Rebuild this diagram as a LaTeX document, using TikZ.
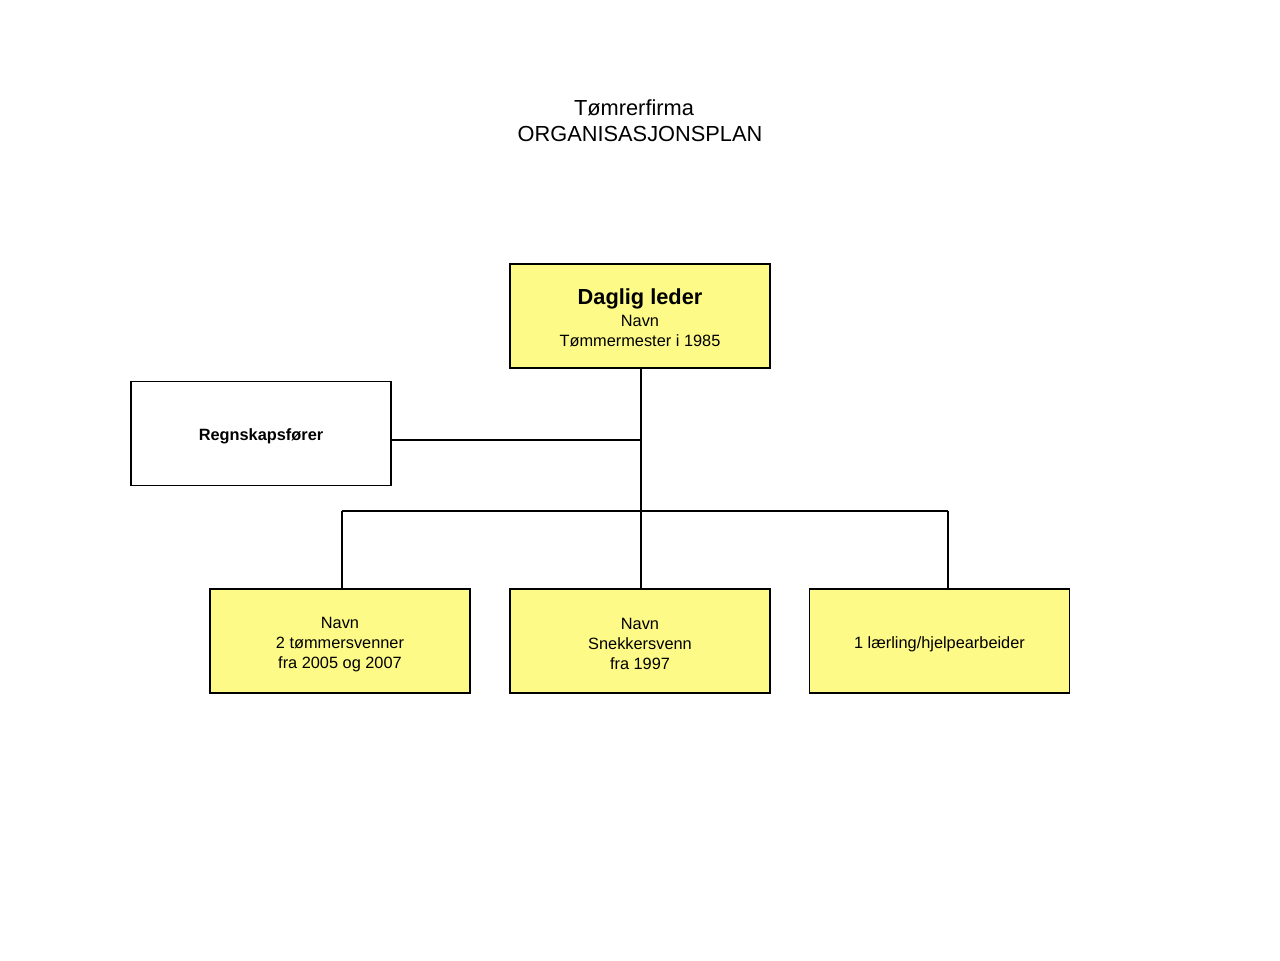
\documentclass[tikz,border=0pt]{standalone}
\usepackage{fontspec}
\setmainfont{Liberation Sans}
\definecolor{boxyellow}{RGB}{253,250,135}
\newcommand\dnstrut{\rule{0pt}{10.1pt}}
\tikzset{
  orgbox/.style={draw=black, line width=0.8pt, minimum width=260*0.02cm, minimum height=104*0.02cm, inner sep=0pt, align=center, font=\fontsize{9.3pt}{11.45pt}\selectfont},
  yellowbox/.style={orgbox, fill=boxyellow},
  titletext/.style={font=\fontsize{12.4pt}{14.5pt}\selectfont, inner sep=0pt}
}
\begin{document}
\begin{tikzpicture}[x=0.02cm, y=-0.02cm]
\useasboundingbox (0,0) rectangle (1280,960);
\fill[white] (0,0) rectangle (1280,960);
\node[titletext] (title1) at (634,108) {Tømrerfirma};
\node[titletext] (title2) at (640,134) {ORGANISASJONSPLAN};
\node[yellowbox] (leder) at (640,316) {\rule{0pt}{11.2pt}{\fontsize{12.4pt}{13.6pt}\selectfont\bfseries Daglig leder}\\[1.1pt]Navn\\Tømmermester i 1985};
\node[orgbox, fill=white, font=\fontsize{9.3pt}{11.3pt}\selectfont\bfseries] (regn) at (261,433.5) {\dnstrut Regnskapsfører};
\node[yellowbox] (svenner) at (340,641) {\dnstrut Navn\\2 tømmersvenner\\fra 2005 og 2007};
\node[yellowbox] (snekker) at (640,641) {\dnstrut Navn\\Snekkersvenn\\fra 1997};
\node[yellowbox] (laerling) at (939.5,641) {\dnstrut 1 lærling/hjelpearbeider};
\coordinate (j1) at (641,440);
\coordinate (bl) at (342,511);
\coordinate (br) at (948,511);
\draw[line width=0.8pt] (leder.south -| j1) -- (snekker.north -| j1);
\draw[line width=0.8pt] (regn.east |- j1) -- (j1);
\draw[line width=0.8pt] (bl) -- (br);
\draw[line width=0.8pt] (bl) -- (bl |- svenner.north);
\draw[line width=0.8pt] (br) -- (br |- laerling.north);
\end{tikzpicture}
\end{document}
